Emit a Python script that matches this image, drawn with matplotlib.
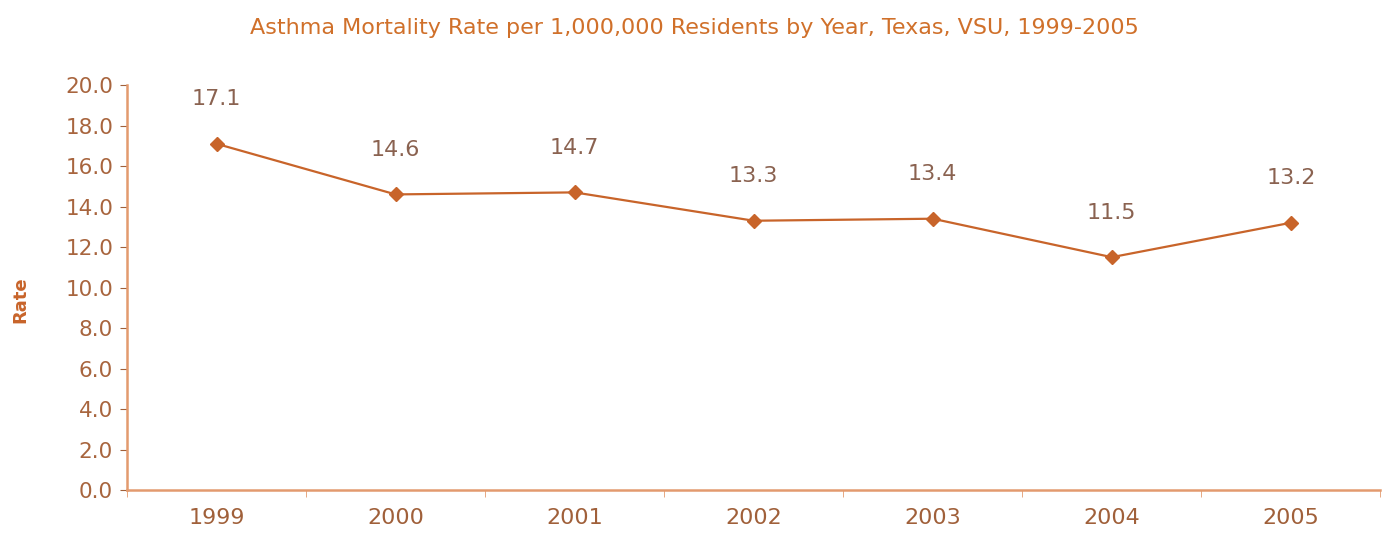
import matplotlib
matplotlib.use("Agg")
import matplotlib.pyplot as plt
import numpy as np

years = ["1999", "2000", "2001", "2002", "2003", "2004", "2005"]
rates = [17.1, 14.6, 14.7, 13.3, 13.4, 11.5, 13.2]
yticks = [0, 2, 4, 6, 8, 10, 12, 14, 16, 18, 20]

line_col = "#c8642a"
text_col = "#a8653e"
spine_col = "#e39a6e"

plt.rcParams['font.family'] = ['DejaVu Sans']

fig = plt.figure(figsize=(13.88, 5.35), dpi=100)
ax = fig.add_axes([0.0915, 0.084, 0.903, 0.757])

x = np.arange(len(years))
ax.plot(x, rates, color=line_col, lw=1.6, marker="D", ms=7, mec=line_col, mfc=line_col)
for xi, r in zip(x, rates):
    ax.annotate("%.1f" % r, (xi, r), xytext=(0, 32), textcoords="offset points",
                ha="center", va="center", fontsize=16, color="#8a6250")

ax.set_xlim(-0.5, len(years) - 0.5)
ax.set_ylim(0, 20)
ax.set_yticks(yticks)
ax.set_yticklabels(["%.1f" % v for v in yticks], fontsize=15.5, color=text_col)
ax.set_xticks(x)
ax.set_xticklabels(years, fontsize=16, color="#a0603a")
ax.set_xticks(np.arange(-0.5, len(years)), minor=True)
ax.tick_params(axis="x", which="major", length=0, pad=13)
ax.tick_params(axis="x", which="minor", length=5, color=spine_col, direction="out")
ax.tick_params(axis="y", length=5, color="#a0603a", direction="out", pad=5)

for s in ["top", "right"]:
    ax.spines[s].set_visible(False)
for s in ["left", "bottom"]:
    ax.spines[s].set_color(spine_col)
    ax.spines[s].set_linewidth(1.8)

ax.set_ylabel("Rate", fontsize=13, color="#c8642a", fontweight="semibold")
ax.yaxis.set_label_coords(-0.078, 0.47)
fig.text(0.5, 0.947, "Asthma Mortality Rate per 1,000,000 Residents by Year, Texas, VSU, 1999-2005",
         ha="center", va="center", fontsize=16, color="#d0702a")

plt.savefig("out.png", dpi=100)
